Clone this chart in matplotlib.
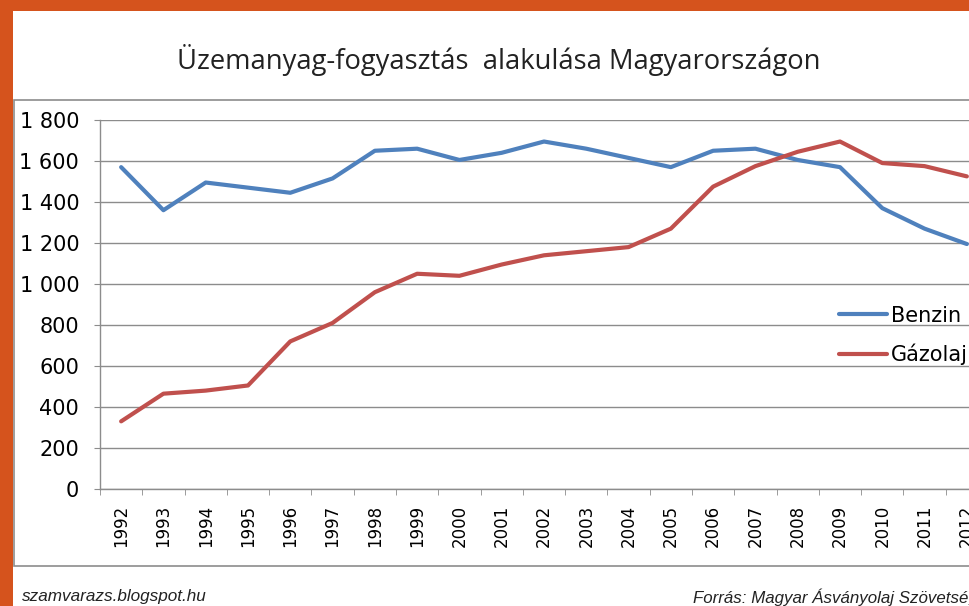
import matplotlib.pyplot as plt
from matplotlib.patches import Rectangle
from matplotlib.ticker import FuncFormatter, FixedLocator

years = [str(y) for y in range(1992, 2013)]
benzin = [1570, 1360, 1495, 1470, 1445, 1515, 1650, 1660, 1605, 1640, 1695,
          1660, 1615, 1570, 1650, 1660, 1605, 1570, 1370, 1270, 1195]
gazolaj = [330, 465, 480, 505, 720, 810, 960, 1050, 1040, 1095, 1140,
           1160, 1180, 1270, 1475, 1575, 1645, 1695, 1590, 1575, 1525]

W, H = 969, 606
fig = plt.figure(figsize=(W / 100, H / 100), dpi=100, facecolor='#D5531D')

# white slide area and chart frame (behind the axes)
fig.patches.append(Rectangle((13 / W, 0), 1, 1 - 11 / H, transform=fig.transFigure,
                             facecolor='white', edgecolor='none', zorder=-3))
fig.patches.append(Rectangle((14 / W, 1 - 566 / H), 1, (566 - 100) / H, transform=fig.transFigure,
                             facecolor='white', edgecolor='#8c8c8c', linewidth=1.2, zorder=-2))

ax = fig.add_axes([100 / W, 1 - 489 / H, 888 / W, (489 - 120) / H])
ax.set_facecolor('none')

x = list(range(len(years)))
ax.plot(x, benzin, color='#4F81BD', lw=3, label='Benzin', solid_capstyle='round')
ax.plot(x, gazolaj, color='#C0504D', lw=3, label='Gázolaj', solid_capstyle='round')

ax.set_xlim(-0.5, len(years) - 0.5)
ax.set_ylim(0, 1800)
ax.set_yticks(range(0, 1801, 200))
ax.yaxis.set_major_formatter(FuncFormatter(lambda v, p: f'{int(v):,}'.replace(',', ' ')))
ax.grid(axis='y', color='#8c8c8c', lw=1)
ax.set_axisbelow(True)

ax.set_xticks(x)
ax.set_xticklabels(years, rotation=90, fontsize=12, family='DejaVu Sans')
ax.xaxis.set_minor_locator(FixedLocator([i - 0.5 for i in range(len(years) + 1)]))
ax.tick_params(axis='x', which='major', length=0, pad=11.5)
ax.tick_params(axis='x', which='minor', length=4.5, color='#8c8c8c')
ax.tick_params(axis='y', length=4, color='#8c8c8c', labelsize=15, pad=11)

for s in ['top', 'right']:
    ax.spines[s].set_visible(False)
for s in ['left', 'bottom']:
    ax.spines[s].set_color('#8c8c8c')
    ax.spines[s].set_linewidth(1)

ax.legend(loc='upper left', bbox_to_anchor=(820 / W, 1 - 287 / H), bbox_transform=fig.transFigure,
          frameon=False, fontsize=15, handlelength=2.3, handletextpad=0.2, labelspacing=0.85)

fig.text(499 / W, 1 - 60 / H, 'Üzemanyag-fogyasztás  alakulása Magyarországon', ha='center',
         va='center', fontsize=19.7, family='Open Sans', color='#222222')
fig.text(22 / W, 1 - 597 / H, 'szamvarazs.blogspot.hu', ha='left', va='center',
         fontsize=12.3, style='italic', family='Liberation Sans', color='#222222')
fig.text(693 / W, 1 - 597 / H, 'Forrás: Magyar Ásványolaj Szövetség', ha='left', va='center',
         fontsize=12.2, style='italic', family='Liberation Sans', color='#222222')

plt.savefig('out.png', dpi=100, facecolor=fig.get_facecolor())
